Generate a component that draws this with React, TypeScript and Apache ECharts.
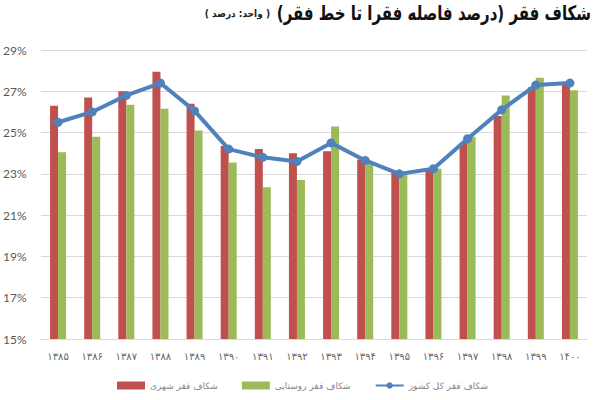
import React, { useEffect, useRef } from "react";
import * as echarts from "echarts";

const years = ["۱۳۸۵", "۱۳۸۶", "۱۳۸۷", "۱۳۸۸", "۱۳۸۹", "۱۳۹۰", "۱۳۹۱", "۱۳۹۲", "۱۳۹۳", "۱۳۹۴", "۱۳۹۵", "۱۳۹۶", "۱۳۹۷", "۱۳۹۸", "۱۳۹۹", "۱۴۰۰"];
const urban = [26.3, 26.7, 27.0, 27.95, 26.4, 24.35, 24.2, 24.0, 24.1, 23.7, 23.05, 23.15, 24.5, 25.8, 27.2, 27.4];
const rural = [24.05, 24.8, 26.35, 26.15, 25.1, 23.55, 22.35, 22.7, 25.3, 23.6, 23.0, 23.25, 24.8, 26.8, 27.65, 27.05];
const total = [25.5, 26.0, 26.8, 27.4, 26.05, 24.2, 23.8, 23.6, 24.5, 23.65, 23.0, 23.25, 24.7, 26.1, 27.3, 27.4];
const seriesNames = ["شکاف فقر شهری", "شکاف فقر روستایی", "شکاف فقر کل کشور"];
const titleText = "شکاف فقر (درصد فاصله فقرا تا خط فقر)";
const unitText = "( واحد: درصد )";
const RLM = "\u200F";

export default function App() {
  const ref = useRef<HTMLDivElement>(null);
  useEffect(() => {
    if (!ref.current) return;
    const chart = echarts.init(ref.current, undefined, { renderer: "svg" });
    chart.setOption({
      animation: false,
      backgroundColor: "#ffffff",
      textStyle: { fontFamily: "DejaVu Sans" },
      graphic: [
        {
          type: "text",
          x: 591,
          y: 3,
          scaleX: 0.75,
          style: {
            text: RLM + titleText + RLM,
            font: "bold 20px 'DejaVu Sans'",
            fill: "#111111",
            textAlign: "right",
          },
        },
        {
          type: "text",
          x: 270,
          y: 8,
          scaleX: 0.9,
          style: {
            text: RLM + unitText + RLM,
            font: "bold 10px 'DejaVu Sans'",
            fill: "#222222",
            textAlign: "right",
          },
        },
      ],
      legend: {
        bottom: 5,
        left: 112,
        itemWidth: 28,
        itemHeight: 8,
        itemGap: 24,
        textStyle: { color: "#888", fontSize: 9 },
        data: [
          { name: seriesNames[0], icon: "rect" },
          { name: seriesNames[1], icon: "rect" },
          { name: seriesNames[2] },
        ],
      },
      grid: { left: 40, right: 13, top: 50, bottom: 61 },
      xAxis: {
        type: "category",
        data: years,
        axisLine: { show: true, lineStyle: { color: "#d9d9d9" } },
        axisTick: { show: false },
        axisLabel: { color: "#666", fontSize: 10, margin: 12 },
      },
      yAxis: {
        type: "value",
        min: 15,
        max: 29,
        interval: 2,
        axisLine: { show: false },
        axisTick: { show: false },
        splitLine: { lineStyle: { color: "#d9d9d9", width: 1 } },
        axisLabel: {
          color: "#595959",
          fontSize: 12,
          fontFamily: "Lato",
          align: "left",
          margin: 38,
          formatter: (v: number) => v + "%",
        },
      },
      series: [
        {
          name: seriesNames[0],
          type: "bar",
          data: urban,
          barWidth: 8,
          barGap: "0%",
          itemStyle: { color: "#C0504D" },
        },
        {
          name: seriesNames[1],
          type: "bar",
          data: rural,
          barWidth: 8,
          barGap: "0%",
          itemStyle: { color: "#9BBB59" },
        },
        {
          name: seriesNames[2],
          type: "line",
          data: total,
          symbol: "circle",
          symbolSize: 9,
          lineStyle: { color: "#4F81BD", width: 4 },
          itemStyle: { color: "#4F81BD" },
          z: 5,
        },
      ],
    });
    return () => chart.dispose();
  }, []);
  return <div ref={ref} style={{ width: 600, height: 400, position: "absolute", left: 0, top: 0 }} />;
}
